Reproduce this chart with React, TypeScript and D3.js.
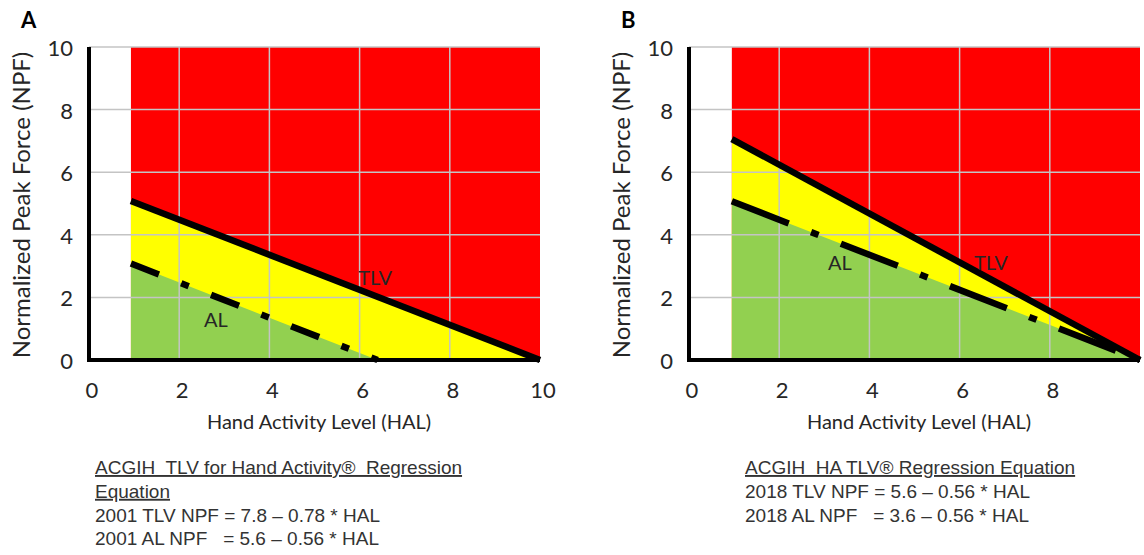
import React from 'react'
import * as d3 from 'd3'

// axis ticks
const halTicks = [0, 2, 4, 6, 8, 10]
const npfTicks = [0, 2, 4, 6, 8, 10]
// panel B's last HAL label is cut off in the original
const aHalLabels = [0, 2, 4, 6, 8, 10]
const bHalLabels = [0, 2, 4, 6, 8]

// panel A lines (HAL, NPF end points)
const aTlvHal = [0.93, 10]
const aTlvNpf = [5.08, 0]
const aAlHal = [0.93, 6.4]
const aAlNpf = [3.08, 0]

// panel B lines
const bTlvHal = [0.95, 10]
const bTlvNpf = [7.06, 0]
const bAlHal = [0.95, 10]
const bAlNpf = [5.07, 0]

// captions under each chart
const captionA = [
  'ACGIH  TLV for Hand Activity®  Regression',
  'Equation',
  '2001 TLV NPF = 7.8 – 0.78 * HAL',
  '2001 AL NPF   = 5.6 – 0.56 * HAL'
]
const captionB = [
  'ACGIH  HA TLV® Regression Equation',
  '2018 TLV NPF = 5.6 – 0.56 * HAL',
  '2018 AL NPF   = 3.6 – 0.56 * HAL'
]

const FONT = 'Lato, "Open Sans", sans-serif'
const CAP_FONT = '"Liberation Sans", Arial, sans-serif'

type Pt = [number, number]
const zip = (xs: number[], ys: number[]): Pt[] => xs.map((x, i) => [x, ys[i]])

function Panel(props: {
  ox: number
  letter: string
  tlv: Pt[]
  al: Pt[]
  alDash: string
  halLabels: number[]
  tlvLabel: Pt
  alLabel: Pt
  caption: string[]
  capX: number
  underlined: number
}) {
  const { ox, letter, tlv, al, alDash, halLabels, tlvLabel, alLabel, caption, capX, underlined } = props
  const x = d3.scaleLinear().domain([0, 10]).range([89 + ox, 540 + ox])
  const y = d3.scaleLinear().domain([0, 10]).range([360, 47])

  const area = d3
    .area<Pt>()
    .x(d => x(d[0]))
    .y0(y(0))
    .y1(d => y(d[1]))
  const line = d3
    .line<Pt>()
    .x(d => x(d[0]))
    .y(d => y(d[1]))

  const x1 = x(tlv[0][0])
  const x2 = x(tlv[tlv.length - 1][0])

  return (
    <g>
      {/* zones */}
      <rect x={x1} y={y(10)} width={x2 - x1} height={y(0) - y(10)} fill="#ff0000" />
      <path d={area(tlv) || ''} fill="#ffff00" />
      <path d={area(al) || ''} fill="#92d050" />

      {/* grid */}
      {npfTicks.slice(1).map(t => (
        <line key={'h' + t} x1={x(0)} x2={x(10)} y1={y(t)} y2={y(t)} stroke="#c4c4c4" strokeWidth={1.5} />
      ))}
      {halTicks.slice(1, -1).map(t => (
        <line key={'v' + t} x1={x(t)} x2={x(t)} y1={y(10)} y2={y(0)} stroke="#c4c4c4" strokeWidth={1.5} />
      ))}

      {/* limit lines */}
      <path d={line(al) || ''} fill="none" stroke="#000" strokeWidth={6.5} strokeDasharray={alDash} />
      <path d={line(tlv) || ''} fill="none" stroke="#000" strokeWidth={6.5} />

      {/* axes */}
      <line x1={x(0)} x2={x(0)} y1={y(10)} y2={y(0) + 2} stroke="#000" strokeWidth={4} />
      <line x1={x(0) - 2} x2={x(10)} y1={y(0)} y2={y(0)} stroke="#000" strokeWidth={4} />

      <g fontFamily={FONT} fontSize={22} fill="#262626">
        {npfTicks.map(t => (
          <text key={'yt' + t} x={x(0) - 16} y={y(t) + 9} textAnchor="end">
            {t}
          </text>
        ))}
        {halLabels.map(t => (
          <text key={'xt' + t} x={x(t) + 3} y={398} textAnchor="middle">
            {t}
          </text>
        ))}
        <text x={x(0) + 230} y={429} textAnchor="middle" fontSize={20}>
          Hand Activity Level (HAL)
        </text>
        <text transform={`translate(${ox + 30},${205}) rotate(-90)`} textAnchor="middle" fontSize={24}>
          Normalized Peak Force (NPF)
        </text>
        <text x={x(tlvLabel[0])} y={y(tlvLabel[1])} fontSize={20}>
          TLV
        </text>
        <text x={x(alLabel[0])} y={y(alLabel[1])} fontSize={20}>
          AL
        </text>
        <text x={ox + 21} y={28} fontSize={22} fontWeight="bold" fill="#000">
          {letter}
        </text>
      </g>

      <g fontFamily={CAP_FONT} fontSize={19} fill="#333">
        {caption.map((c, i) => (
          <text
            key={'c' + i}
            x={ox + capX}
            y={474 + i * 23.8}
            style={{ whiteSpace: 'pre' }}
            textDecoration={i < underlined ? 'underline' : undefined}
          >
            {c}
          </text>
        ))}
      </g>
    </g>
  )
}

export default function App() {
  return (
    <svg
      width={1144}
      height={555}
      style={{ position: 'absolute', left: 0, top: 0, background: '#fff' }}
    >
      <rect width={1144} height={555} fill="#fff" />
      <Panel
        ox={0}
        letter="A"
        tlv={zip(aTlvHal, aTlvNpf)}
        al={zip(aAlHal, aAlNpf)}
        alDash="30 24 8 24"
        halLabels={aHalLabels}
        tlvLabel={[5.97, 2.39]}
        alLabel={[2.55, 1.05]}
        caption={captionA}
        capX={95}
        underlined={2}
      />
      <Panel
        ox={600}
        letter="B"
        tlv={zip(bTlvHal, bTlvNpf)}
        al={zip(bAlHal, bAlNpf)}
        alDash="61 24 8 24"
        halLabels={bHalLabels}
        tlvLabel={[6.32, 2.87]}
        alLabel={[3.08, 2.87]}
        caption={captionB}
        capX={145}
        underlined={1}
      />
    </svg>
  )
}
